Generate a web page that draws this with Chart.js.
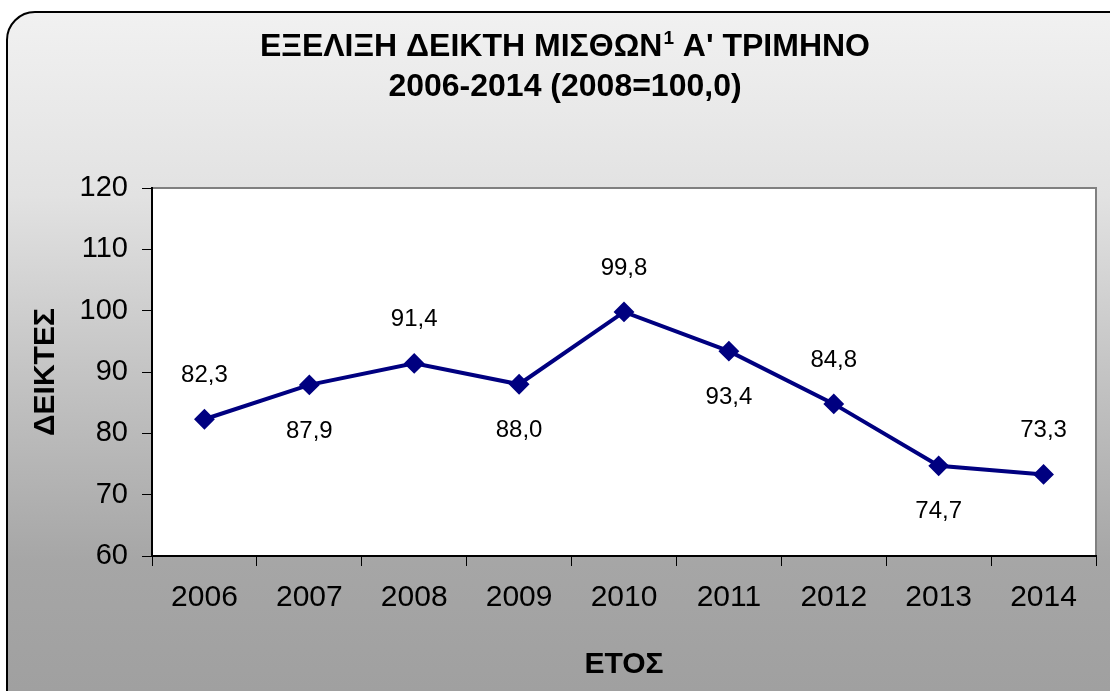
<!DOCTYPE html>
<html>
<head>
<meta charset="utf-8">
<script src="https://cdn.jsdelivr.net/npm/chart.js@4/dist/chart.umd.min.js"></script>
<style>
  body { margin: 0; background: #fff; }
  #wrap { width: 1110px; height: 691px; }
</style>
</head>
<body>
<div id="wrap"><canvas id="chart" width="1110" height="691"></canvas></div>
<script>
// data
const years = ['2006', '2007', '2008', '2009', '2010', '2011', '2012', '2013', '2014'];
const wageIndex = [82.3, 87.9, 91.4, 88.0, 99.8, 93.4, 84.8, 74.7, 73.3];
const yTicks = [60, 70, 80, 90, 100, 110, 120];

const titleLine1 = ['ΕΞΕΛΙΞΗ ΔΕΙΚΤΗ ΜΙΣΘΩΝ', '1', ' Α\' ΤΡΙΜΗΝΟ'];
const titleLine2 = '2006-2014 (2008=100,0)';
const yTitle = 'ΔΕΙΚΤΕΣ';
const xTitle = 'ΕΤΟΣ';

const FONT = '"Liberation Sans", Arial, sans-serif';
const fmt = v => v.toFixed(1).replace('.', ',');

// background box, plot area and the two line title
const frame = {
  id: 'frame',
  beforeDraw(chart) {
    const ctx = chart.ctx;
    const a = chart.chartArea;
    ctx.save();
    const g = ctx.createLinearGradient(0, 12, 0, 691);
    g.addColorStop(0, '#f1f1f1');
    g.addColorStop(0.27, '#e2e2e2');
    g.addColorStop(0.53, '#c4c4c4');
    g.addColorStop(0.81, '#a6a6a6');
    g.addColorStop(1, '#a0a0a0');
    ctx.beginPath();
    ctx.roundRect(7, 12, 1140, 720, 28);
    ctx.fillStyle = g;
    ctx.fill();
    ctx.lineWidth = 2;
    ctx.strokeStyle = '#000';
    ctx.stroke();

    ctx.fillStyle = '#fff';
    ctx.fillRect(a.left, a.top, a.right - a.left, a.bottom - a.top);
    ctx.strokeStyle = '#808080';
    ctx.lineWidth = 2;
    ctx.beginPath();
    ctx.moveTo(a.left, a.top);
    ctx.lineTo(a.right, a.top);
    ctx.lineTo(a.right, a.bottom);
    ctx.stroke();

    // title
    const cx = 565;
    ctx.fillStyle = '#000';
    ctx.textBaseline = 'middle';
    ctx.textAlign = 'left';
    const big = 'bold 32px ' + FONT, small = 'bold 19px ' + FONT;
    ctx.font = big;
    const w0 = ctx.measureText(titleLine1[0]).width;
    const w2 = ctx.measureText(titleLine1[2]).width;
    ctx.font = small;
    const w1 = ctx.measureText(titleLine1[1]).width + 1;
    let x = cx - (w0 + w1 + w2) / 2;
    ctx.font = big;
    ctx.fillText(titleLine1[0], x, 47);
    ctx.font = small;
    ctx.fillText(titleLine1[1], x + w0 + 1, 39);
    ctx.font = big;
    ctx.fillText(titleLine1[2], x + w0 + w1, 47);
    ctx.textAlign = 'center';
    ctx.fillText(titleLine2, cx, 87);
    ctx.restore();
  }
};

// value labels, alternating above and below the points
const valueLabels = {
  id: 'valueLabels',
  afterDatasetsDraw(chart) {
    const ctx = chart.ctx;
    const pts = chart.getDatasetMeta(0).data;
    ctx.save();
    ctx.font = '24px ' + FONT;
    ctx.fillStyle = '#000';
    ctx.textAlign = 'center';
    ctx.textBaseline = 'middle';
    pts.forEach((p, i) => {
      const dy = i % 2 === 0 ? -44 : 46;
      ctx.fillText(fmt(wageIndex[i]), p.x, p.y + dy);
    });
    ctx.restore();
  }
};

new Chart(document.getElementById('chart'), {
  type: 'line',
  data: {
    labels: years,
    datasets: [{
      data: wageIndex,
      borderColor: '#000080',
      backgroundColor: '#000080',
      borderWidth: 4,
      pointStyle: 'rectRot',
      pointRadius: 9,
      pointBorderWidth: 2,
      pointBackgroundColor: '#000080',
      pointBorderColor: '#000080',
      tension: 0
    }]
  },
  options: {
    responsive: false,
    animation: false,
    layout: { padding: { top: 188, right: 14, left: 0, bottom: 0 } },
    plugins: { legend: { display: false }, tooltip: { enabled: false } },
    scales: {
      x: {
        offset: true,
        afterFit: s => { s.height = 135; },
        grid: { offset: true, drawOnChartArea: false, color: '#000', tickLength: 10, lineWidth: 1 },
        border: { color: '#000', width: 2 },
        ticks: { color: '#000', font: { family: FONT, size: 30 }, padding: 14, maxRotation: 0 },
        title: { display: true, text: xTitle, color: '#000', font: { family: FONT, size: 30, weight: 'bold' }, padding: { bottom: 8 } }
      },
      y: {
        min: yTicks[0],
        max: yTicks[yTicks.length - 1],
        afterFit: s => { s.width = 152; },
        afterBuildTicks: s => { s.ticks = yTicks.map(v => ({ value: v })); },
        grid: { drawOnChartArea: false, color: '#000', tickLength: 10, lineWidth: 1 },
        border: { color: '#000', width: 2 },
        ticks: { color: '#000', font: { family: FONT, size: 29 }, padding: 14 },
        title: { display: true, text: yTitle, color: '#000', font: { family: FONT, size: 30, weight: 'bold' }, padding: { top: 28 } }
      }
    }
  },
  plugins: [frame, valueLabels]
});
</script>
</body>
</html>
